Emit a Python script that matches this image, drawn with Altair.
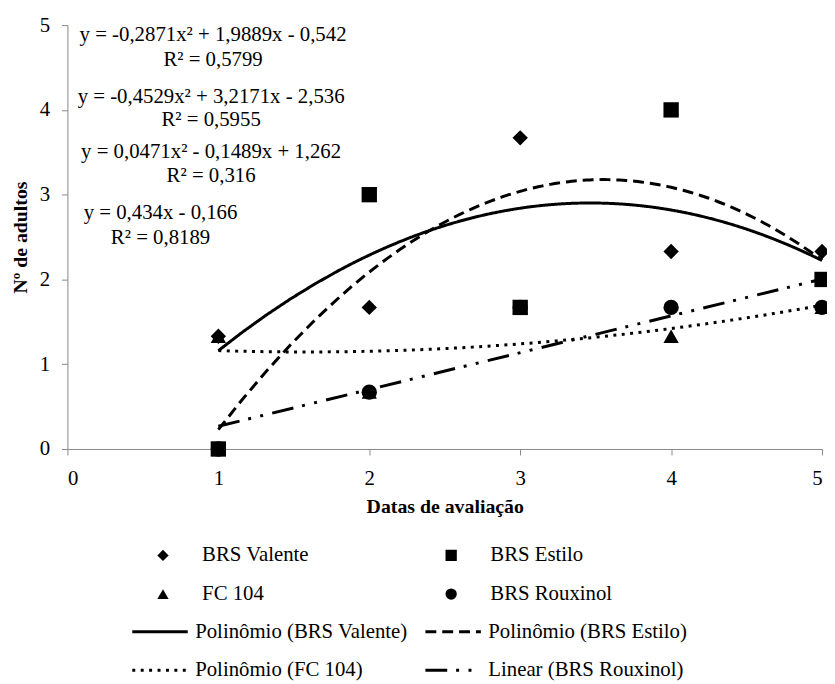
import altair as alt
import pandas as pd

# ---- data ----
x_dates = [1, 2, 3, 4, 5]
# legend fills column by column, so the order is: col 1 then col 2
series_names = ["BRS Valente", "FC 104", "BRS Estilo", "BRS Rouxinol"]
brs_valente = [1.33, 1.67, 3.67, 2.33, 2.33]
fc_104 = [1.33, 0.67, 1.67, 1.33, 1.67]
brs_estilo = [0.0, 3.0, 1.67, 4.0, 2.0]
brs_rouxinol = [0.0, 0.67, 1.67, 1.67, 1.67]
series_shapes = ["diamond", "triangle-up", "square", "circle"]

trend_names = ["Polinômio (BRS Valente)", "Polinômio (FC 104)",
               "Polinômio (BRS Estilo)", "Linear (BRS Rouxinol)"]
trend_dashes = [[1, 0], [3, 5.5], [11, 6], [22, 9, 3, 9.5, 3, 9.5]]

eq_texts = ["y = -0,2871x² + 1,9889x - 0,542", "R² = 0,5799",
            "y = -0,4529x² + 3,2171x - 2,536", "R² = 0,5955",
            "y = 0,0471x² - 0,1489x + 1,262", "R² = 0,316",
            "y = 0,434x - 0,166", "R² = 0,8189"]
eq_x = [0.965, 0.965, 0.952, 0.952, 0.952, 0.952, 0.617, 0.617]
eq_y = [4.88, 4.59, 4.15, 3.88, 3.50, 3.22, 2.78, 2.49]

axis_ticks = [0, 1, 2, 3, 4, 5]

# ---- tables ----
rows = []
for name, vals in zip(series_names, [brs_valente, fc_104, brs_estilo, brs_rouxinol]):
    for xv, yv in zip(x_dates, vals):
        rows.append({"series": name, "x": xv, "y": yv})
df = pd.DataFrame(rows)
eq_df = pd.DataFrame({"t": eq_texts, "x": eq_x, "y": eq_y})

FONT = "Liberation Serif"

x_enc = alt.X("x:Q", scale=alt.Scale(domain=[0, 5], nice=False),
              axis=alt.Axis(values=axis_ticks, title="Datas de avaliação",
                            labelFont=FONT, titleFont=FONT,
                            labelPadding=13, titlePadding=8, format="d"))
y_enc = alt.Y("y:Q", scale=alt.Scale(domain=[0, 5], nice=False),
              axis=alt.Axis(values=axis_ticks, title="Nº de adultos",
                            labelFont=FONT, titleFont=FONT,
                            labelPadding=12, titlePadding=9, format="d"))

base = alt.Chart(df)

dash_scale = alt.Scale(domain=trend_names, range=trend_dashes)
line_legend = alt.Legend(title=None, orient="none", legendX=64, legendY=602,
                         columns=2, symbolType="stroke", symbolSize=3136,
                         symbolStrokeWidth=3, symbolStrokeColor="black",
                         clipHeight=21, rowPadding=17, columnPadding=16,
                         labelOffset=6, padding=0, labelFont=FONT)

poly = base.transform_filter(
    "datum.series != 'BRS Rouxinol'"
).transform_regression(
    "x", "y", method="poly", order=2, groupby=["series"], extent=[1, 5]
).transform_calculate(
    trend="'Polinômio (' + datum.series + ')'"
).mark_line(color="black", strokeWidth=3).encode(
    x=x_enc, y=y_enc,
    strokeDash=alt.StrokeDash("trend:N", scale=dash_scale, legend=line_legend),
)

lin = base.transform_filter(
    "datum.series == 'BRS Rouxinol'"
).transform_regression(
    "x", "y", method="linear", groupby=["series"], extent=[1, 5]
).transform_calculate(
    trend="'Linear (' + datum.series + ')'"
).mark_line(color="black", strokeWidth=3).encode(
    x=x_enc, y=y_enc,
    strokeDash=alt.StrokeDash("trend:N", scale=dash_scale, legend=line_legend),
)

points = base.mark_point(filled=True, color="black", opacity=1, size=240).encode(
    x=x_enc, y=y_enc,
    shape=alt.Shape("series:N", scale=alt.Scale(domain=series_names, range=series_shapes),
                    legend=alt.Legend(title=None, orient="none", legendX=86, legendY=525,
                                      columns=2, symbolSize=130, symbolFillColor="black",
                                      symbolStrokeColor="black", clipHeight=21,
                                      rowPadding=17, columnPadding=133,
                                      labelOffset=29, padding=0, labelFont=FONT)),
)

eqs = alt.Chart(eq_df).mark_text(font=FONT, fontSize=21, align="center",
                                 baseline="middle", color="black").encode(
    x=alt.X("x:Q"), y=alt.Y("y:Q"), text="t:N")

chart = alt.layer(poly, lin, points, eqs).properties(
    width=762, height=428,
    autosize=alt.AutoSizeParams(type="none"),
    padding={"left": 60, "top": 14, "right": 5, "bottom": 232},
    background="white",
).configure_view(stroke=None).configure_axis(
    grid=False, domainColor="#888888", tickColor="#888888", tickSize=6,
    labelFont=FONT, labelFontSize=21, labelColor="black",
    titleFont=FONT, titleFontSize=20, titleFontWeight="bold", titleColor="black",
).configure_legend(
    labelFont=FONT, labelFontSize=21, labelColor="black", labelLimit=400,
)

chart.save("out.html", embed_options={"renderer": "svg", "actions": False})
